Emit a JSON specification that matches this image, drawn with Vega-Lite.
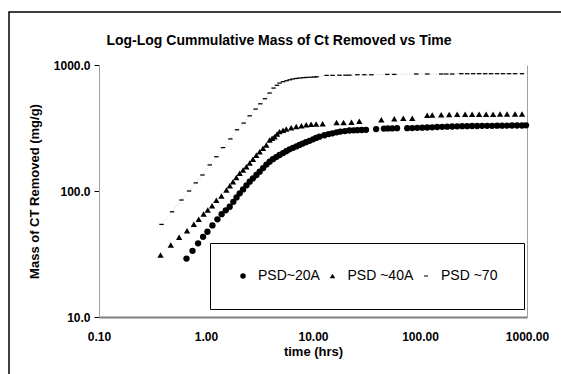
{
  "$schema": "https://vega.github.io/schema/vega-lite/v6.json",
  "width": 552,
  "height": 362,
  "autosize": {"type": "none"},
  "padding": {"left": 9, "top": 12, "right": 0, "bottom": 0},
  "background": "white",
  "config": {
    "view": {"stroke": "black", "strokeWidth": 1.5, "strokeDash": [552, 914, 362], "fill": "white"},
    "font": "Liberation Sans"
  },
  "title": {
    "text": "Log-Log Cummulative Mass of Ct Removed vs Time",
    "fontSize": 14,
    "fontWeight": "bold",
    "font": "Liberation Sans",
    "color": "black",
    "anchor": "middle",
    "frame": "group",
    "offset": -36,
    "dx": -6
  },
  "data": {
    "values": [
      {"series": "PSD~20A", "t": 0.657, "m": 29.1},
      {"series": "PSD~20A", "t": 0.748, "m": 33.5},
      {"series": "PSD~20A", "t": 0.843, "m": 38.4},
      {"series": "PSD~20A", "t": 0.939, "m": 43.3},
      {"series": "PSD~20A", "t": 1.032, "m": 47.5},
      {"series": "PSD~20A", "t": 1.148, "m": 53.3},
      {"series": "PSD~20A", "t": 1.279, "m": 59.6},
      {"series": "PSD~20A", "t": 1.40, "m": 65.5},
      {"series": "PSD~20A", "t": 1.53, "m": 70.2},
      {"series": "PSD~20A", "t": 1.665, "m": 75.0},
      {"series": "PSD~20A", "t": 1.80, "m": 82},
      {"series": "PSD~20A", "t": 1.93, "m": 89},
      {"series": "PSD~20A", "t": 2.064, "m": 95.9},
      {"series": "PSD~20A", "t": 2.22, "m": 103},
      {"series": "PSD~20A", "t": 2.39, "m": 111},
      {"series": "PSD~20A", "t": 2.559, "m": 118.6},
      {"series": "PSD~20A", "t": 2.75, "m": 126},
      {"series": "PSD~20A", "t": 2.96, "m": 134},
      {"series": "PSD~20A", "t": 3.171, "m": 142.4},
      {"series": "PSD~20A", "t": 3.42, "m": 152},
      {"series": "PSD~20A", "t": 3.67, "m": 162},
      {"series": "PSD~20A", "t": 3.93, "m": 171},
      {"series": "PSD~20A", "t": 4.22, "m": 179},
      {"series": "PSD~20A", "t": 4.53, "m": 186},
      {"series": "PSD~20A", "t": 4.87, "m": 193},
      {"series": "PSD~20A", "t": 5.25, "m": 200},
      {"series": "PSD~20A", "t": 5.63, "m": 207},
      {"series": "PSD~20A", "t": 6.04, "m": 214},
      {"series": "PSD~20A", "t": 6.5, "m": 220},
      {"series": "PSD~20A", "t": 7.0, "m": 226},
      {"series": "PSD~20A", "t": 7.48, "m": 232},
      {"series": "PSD~20A", "t": 8.0, "m": 238},
      {"series": "PSD~20A", "t": 8.6, "m": 244},
      {"series": "PSD~20A", "t": 9.28, "m": 250},
      {"series": "PSD~20A", "t": 10.0, "m": 257},
      {"series": "PSD~20A", "t": 10.7, "m": 264},
      {"series": "PSD~20A", "t": 11.5, "m": 270},
      {"series": "PSD~20A", "t": 12.8, "m": 277},
      {"series": "PSD~20A", "t": 14.0, "m": 283},
      {"series": "PSD~20A", "t": 15.2, "m": 287},
      {"series": "PSD~20A", "t": 16.6, "m": 292},
      {"series": "PSD~20A", "t": 18.0, "m": 296},
      {"series": "PSD~20A", "t": 19.9, "m": 299},
      {"series": "PSD~20A", "t": 21.9, "m": 302},
      {"series": "PSD~20A", "t": 24.0, "m": 303},
      {"series": "PSD~20A", "t": 26.0, "m": 304},
      {"series": "PSD~20A", "t": 28.5, "m": 305},
      {"series": "PSD~20A", "t": 31.3, "m": 306},
      {"series": "PSD~20A", "t": 38.9, "m": 310},
      {"series": "PSD~20A", "t": 46, "m": 313},
      {"series": "PSD~20A", "t": 50, "m": 314},
      {"series": "PSD~20A", "t": 55, "m": 314},
      {"series": "PSD~20A", "t": 61, "m": 315},
      {"series": "PSD~20A", "t": 76, "m": 315},
      {"series": "PSD~20A", "t": 84.7, "m": 316},
      {"series": "PSD~20A", "t": 94.3, "m": 317},
      {"series": "PSD~20A", "t": 105, "m": 318},
      {"series": "PSD~20A", "t": 116.8, "m": 319},
      {"series": "PSD~20A", "t": 130.1, "m": 320},
      {"series": "PSD~20A", "t": 144.8, "m": 322},
      {"series": "PSD~20A", "t": 161.3, "m": 323},
      {"series": "PSD~20A", "t": 179.6, "m": 324},
      {"series": "PSD~20A", "t": 199.9, "m": 325},
      {"series": "PSD~20A", "t": 222.5, "m": 326},
      {"series": "PSD~20A", "t": 247.7, "m": 327},
      {"series": "PSD~20A", "t": 275.8, "m": 327},
      {"series": "PSD~20A", "t": 307, "m": 328},
      {"series": "PSD~20A", "t": 341.8, "m": 328},
      {"series": "PSD~20A", "t": 380.5, "m": 329},
      {"series": "PSD~20A", "t": 423.6, "m": 329},
      {"series": "PSD~20A", "t": 471.7, "m": 329},
      {"series": "PSD~20A", "t": 525.2, "m": 330},
      {"series": "PSD~20A", "t": 584.7, "m": 330},
      {"series": "PSD~20A", "t": 650.9, "m": 330},
      {"series": "PSD~20A", "t": 724.6, "m": 331},
      {"series": "PSD~20A", "t": 807, "m": 331},
      {"series": "PSD~20A", "t": 898.2, "m": 331},
      {"series": "PSD~20A", "t": 979, "m": 332},

      {"series": "PSD ~40A", "t": 0.376, "m": 31},
      {"series": "PSD ~40A", "t": 0.469, "m": 37.2},
      {"series": "PSD ~40A", "t": 0.561, "m": 42.9},
      {"series": "PSD ~40A", "t": 0.665, "m": 48.3},
      {"series": "PSD ~40A", "t": 0.77, "m": 54.5},
      {"series": "PSD ~40A", "t": 0.855, "m": 59.6},
      {"series": "PSD ~40A", "t": 0.95, "m": 65.8},
      {"series": "PSD ~40A", "t": 1.038, "m": 70.7},
      {"series": "PSD ~40A", "t": 1.14, "m": 76.5},
      {"series": "PSD ~40A", "t": 1.25, "m": 84.3},
      {"series": "PSD ~40A", "t": 1.394, "m": 91.2},
      {"series": "PSD ~40A", "t": 1.551, "m": 101.8},
      {"series": "PSD ~40A", "t": 1.67, "m": 110},
      {"series": "PSD ~40A", "t": 1.788, "m": 118.6},
      {"series": "PSD ~40A", "t": 1.92, "m": 128},
      {"series": "PSD ~40A", "t": 2.064, "m": 138.3},
      {"series": "PSD ~40A", "t": 2.22, "m": 147},
      {"series": "PSD ~40A", "t": 2.384, "m": 156},
      {"series": "PSD ~40A", "t": 2.56, "m": 167},
      {"series": "PSD ~40A", "t": 2.746, "m": 178.7},
      {"series": "PSD ~40A", "t": 2.95, "m": 192},
      {"series": "PSD ~40A", "t": 3.171, "m": 205},
      {"series": "PSD ~40A", "t": 3.41, "m": 218},
      {"series": "PSD ~40A", "t": 3.662, "m": 232},
      {"series": "PSD ~40A", "t": 3.93, "m": 254},
      {"series": "PSD ~40A", "t": 4.15, "m": 262},
      {"series": "PSD ~40A", "t": 4.375, "m": 270},
      {"series": "PSD ~40A", "t": 4.62, "m": 283},
      {"series": "PSD ~40A", "t": 4.87, "m": 296},
      {"series": "PSD ~40A", "t": 5.25, "m": 303},
      {"series": "PSD ~40A", "t": 5.62, "m": 310},
      {"series": "PSD ~40A", "t": 6.25, "m": 318},
      {"series": "PSD ~40A", "t": 6.97, "m": 325},
      {"series": "PSD ~40A", "t": 7.8, "m": 330},
      {"series": "PSD ~40A", "t": 8.64, "m": 335},
      {"series": "PSD ~40A", "t": 9.6, "m": 338},
      {"series": "PSD ~40A", "t": 10.7, "m": 340},
      {"series": "PSD ~40A", "t": 12.3, "m": 342},
      {"series": "PSD ~40A", "t": 16.6, "m": 349},
      {"series": "PSD ~40A", "t": 19.3, "m": 350},
      {"series": "PSD ~40A", "t": 22.9, "m": 351},
      {"series": "PSD ~40A", "t": 27.1, "m": 358},
      {"series": "PSD ~40A", "t": 43.5, "m": 367},
      {"series": "PSD ~40A", "t": 57.5, "m": 374},
      {"series": "PSD ~40A", "t": 69.8, "m": 378},
      {"series": "PSD ~40A", "t": 84.7, "m": 378},
      {"series": "PSD ~40A", "t": 116.8, "m": 400},
      {"series": "PSD ~40A", "t": 130.1, "m": 401},
      {"series": "PSD ~40A", "t": 157.8, "m": 403},
      {"series": "PSD ~40A", "t": 187.4, "m": 405},
      {"series": "PSD ~40A", "t": 222.5, "m": 406},
      {"series": "PSD ~40A", "t": 264.2, "m": 406},
      {"series": "PSD ~40A", "t": 307, "m": 407},
      {"series": "PSD ~40A", "t": 356.8, "m": 407},
      {"series": "PSD ~40A", "t": 414.7, "m": 407},
      {"series": "PSD ~40A", "t": 482, "m": 407},
      {"series": "PSD ~40A", "t": 560, "m": 408},
      {"series": "PSD ~40A", "t": 651, "m": 408},
      {"series": "PSD ~40A", "t": 773, "m": 408},
      {"series": "PSD ~40A", "t": 898, "m": 408},

      {"series": "PSD ~70", "t": 0.384, "m": 54.3},
      {"series": "PSD ~70", "t": 0.482, "m": 68.4},
      {"series": "PSD ~70", "t": 0.59, "m": 84.8},
      {"series": "PSD ~70", "t": 0.695, "m": 100},
      {"series": "PSD ~70", "t": 0.802, "m": 116},
      {"series": "PSD ~70", "t": 0.927, "m": 134},
      {"series": "PSD ~70", "t": 1.084, "m": 161},
      {"series": "PSD ~70", "t": 1.251, "m": 187},
      {"series": "PSD ~70", "t": 1.442, "m": 221},
      {"series": "PSD ~70", "t": 1.69, "m": 259},
      {"series": "PSD ~70", "t": 1.948, "m": 306},
      {"series": "PSD ~70", "t": 2.249, "m": 346},
      {"series": "PSD ~70", "t": 2.559, "m": 395},
      {"series": "PSD ~70", "t": 2.91, "m": 447},
      {"series": "PSD ~70", "t": 3.219, "m": 492},
      {"series": "PSD ~70", "t": 3.553, "m": 540},
      {"series": "PSD ~70", "t": 3.93, "m": 599},
      {"series": "PSD ~70", "t": 4.282, "m": 656},
      {"series": "PSD ~70", "t": 4.6, "m": 690},
      {"series": "PSD ~70", "t": 4.87, "m": 719},
      {"series": "PSD ~70", "t": 5.25, "m": 737},
      {"series": "PSD ~70", "t": 5.66, "m": 750},
      {"series": "PSD ~70", "t": 6.05, "m": 763},
      {"series": "PSD ~70", "t": 6.44, "m": 774},
      {"series": "PSD ~70", "t": 6.95, "m": 782},
      {"series": "PSD ~70", "t": 7.48, "m": 788},
      {"series": "PSD ~70", "t": 8.1, "m": 793},
      {"series": "PSD ~70", "t": 8.7, "m": 797},
      {"series": "PSD ~70", "t": 9.5, "m": 800},
      {"series": "PSD ~70", "t": 10.3, "m": 803},
      {"series": "PSD ~70", "t": 10.8, "m": 806},
      {"series": "PSD ~70", "t": 13.4, "m": 827},
      {"series": "PSD ~70", "t": 15.2, "m": 828},
      {"series": "PSD ~70", "t": 17.7, "m": 830},
      {"series": "PSD ~70", "t": 20.1, "m": 830},
      {"series": "PSD ~70", "t": 21.9, "m": 831},
      {"series": "PSD ~70", "t": 26, "m": 837},
      {"series": "PSD ~70", "t": 30.2, "m": 837},
      {"series": "PSD ~70", "t": 35.1, "m": 837},
      {"series": "PSD ~70", "t": 49.5, "m": 842},
      {"series": "PSD ~70", "t": 57.5, "m": 842},
      {"series": "PSD ~70", "t": 92.3, "m": 848},
      {"series": "PSD ~70", "t": 117, "m": 848},
      {"series": "PSD ~70", "t": 158, "m": 848},
      {"series": "PSD ~70", "t": 176, "m": 848},
      {"series": "PSD ~70", "t": 200, "m": 848},
      {"series": "PSD ~70", "t": 243, "m": 853},
      {"series": "PSD ~70", "t": 276, "m": 853},
      {"series": "PSD ~70", "t": 314, "m": 853},
      {"series": "PSD ~70", "t": 357, "m": 853},
      {"series": "PSD ~70", "t": 406, "m": 853},
      {"series": "PSD ~70", "t": 461, "m": 853},
      {"series": "PSD ~70", "t": 525, "m": 853},
      {"series": "PSD ~70", "t": 597, "m": 853},
      {"series": "PSD ~70", "t": 679, "m": 853},
      {"series": "PSD ~70", "t": 773, "m": 853},
      {"series": "PSD ~70", "t": 898, "m": 853}
    ]
  },
  "layer": [
    {
      "transform": [{"filter": "datum.series == 'PSD ~70'"}],
      "mark": {"type": "line", "color": "#9a9a9a", "strokeWidth": 0.6, "strokeDash": [1, 2]},
      "encoding": {
        "x": {
          "field": "t", "type": "quantitative",
          "scale": {"type": "log", "domain": [0.1, 1000], "range": [90, 518], "nice": false},
          "axis": {
            "values": [0.1, 1, 10, 100, 1000], "format": ".2f", "offset": -57,
            "ticks": false, "labelPadding": 14, "labelFontSize": 12, "labelFontWeight": "bold",
            "labelColor": "black", "labelFont": "Liberation Sans", "labelFlush": false, "labelOverlap": false,
            "domainColor": "#808080", "domainWidth": 2, "grid": false,
            "title": "time (hrs)", "titleFontSize": 13, "titleFontWeight": "bold", "titleFont": "Liberation Sans",
            "titleColor": "black", "titlePadding": 3
          }
        },
        "y": {
          "field": "m", "type": "quantitative",
          "scale": {"type": "log", "domain": [10, 1000], "range": [305, 53], "nice": false},
          "axis": {
            "orient": "right", "offset": -34, "labels": false, "ticks": false, "grid": false,
            "title": null, "domainColor": "#a0a0a0", "domainWidth": 1, "values": [10, 100, 1000]
          }
        }
      }
    },
    {
      "mark": {"type": "point", "filled": true, "color": "black", "opacity": 1, "size": 40},
      "encoding": {
        "x": {
          "field": "t", "type": "quantitative",
          "scale": {"type": "log", "domain": [0.1, 1000], "range": [90, 518], "nice": false},
          "axis": {
            "values": [0.1, 1, 10, 100, 1000], "format": ".2f", "offset": -57,
            "ticks": false, "labelPadding": 14, "labelFontSize": 12, "labelFontWeight": "bold",
            "labelColor": "black", "labelFont": "Liberation Sans", "labelFlush": false, "labelOverlap": false,
            "domainColor": "#808080", "domainWidth": 2, "grid": false,
            "title": "time (hrs)", "titleFontSize": 13, "titleFontWeight": "bold", "titleFont": "Liberation Sans",
            "titleColor": "black", "titlePadding": 3
          }
        },
        "y": {
          "field": "m", "type": "quantitative",
          "scale": {"type": "log", "domain": [10, 1000], "range": [305, 53], "nice": false},
          "axis": {
            "orient": "left", "offset": -90, "values": [10, 100, 1000], "format": ".1f",
            "tickSize": 5, "tickColor": "black", "labelPadding": 4, "labelFontSize": 12,
            "labelFontWeight": "bold", "labelColor": "black", "labelFont": "Liberation Sans",
            "labelFlush": false, "labelOverlap": false, "grid": false,
            "domainColor": "#a0a0a0", "domainWidth": 1,
            "title": "Mass of CT Removed (mg/g)", "titleFontSize": 13, "titleFontWeight": "bold",
            "titleFont": "Liberation Sans", "titleColor": "black", "titlePadding": 12
          }
        },
        "shape": {
          "field": "series", "type": "nominal",
          "scale": {"domain": ["PSD~20A", "PSD ~40A", "PSD ~70"], "range": ["circle", "triangle-up", "M-0.7,-0.2H0.7V0.2H-0.7Z"]},
          "legend": {
            "orient": "none", "legendX": 201, "legendY": 231, "direction": "horizontal",
            "title": null, "padding": 26, "columnPadding": 5.5, "fillColor": "white",
            "strokeColor": "black", "labelFontSize": 14, "labelFont": "Liberation Sans",
            "labelColor": "black", "labelOffset": 8, "symbolSize": 30, "symbolFillColor": "black",
            "symbolStrokeWidth": 0
          }
        }
      }
    }
  ],
  "resolve": {"axis": {"y": "independent"}}
}
